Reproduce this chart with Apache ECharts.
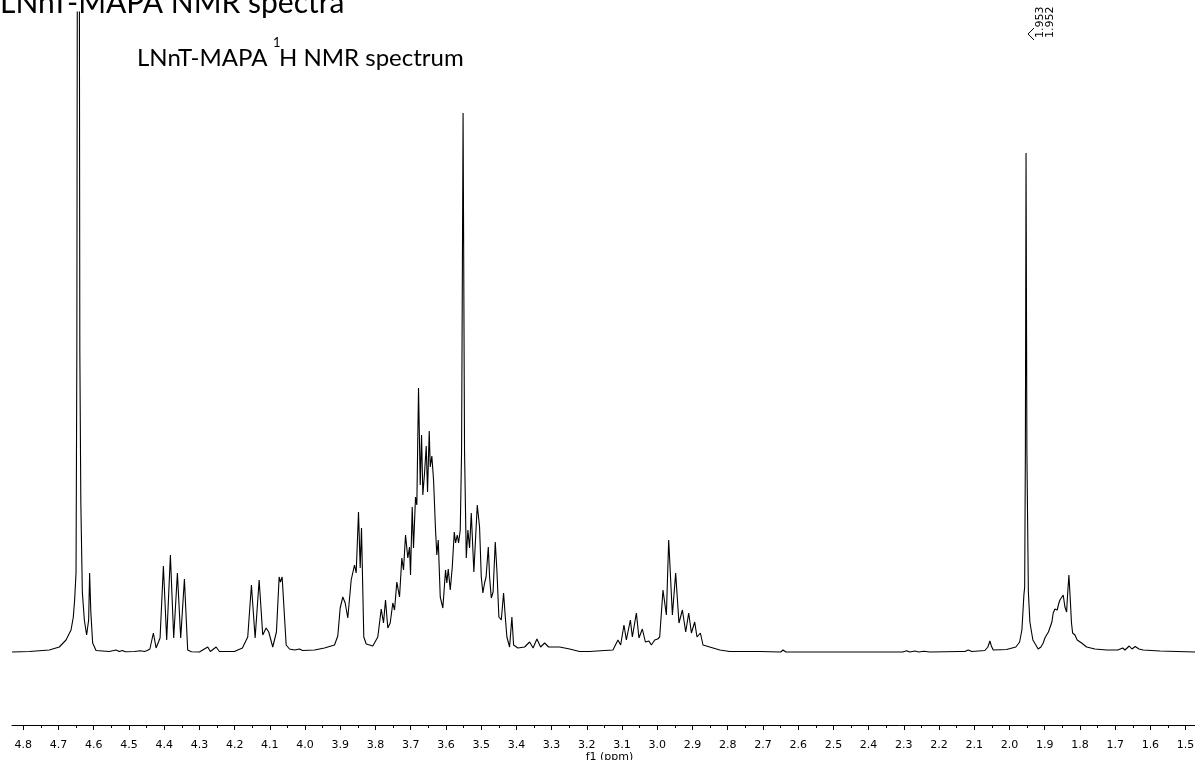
<!DOCTYPE html>
<html>
<head>
<meta charset="utf-8">
<title>LNnT-MAPA NMR spectra</title>
<script src="https://cdn.jsdelivr.net/npm/echarts@6/dist/echarts.min.js"></script>
<style>
  html, body { margin: 0; padding: 0; background: #ffffff; overflow: hidden; }
  #chart { width: 1195px; height: 760px; }
</style>
</head>
<body>
<div id="chart"></div>
<script>
// 1H NMR trace: chemical shift (ppm) and intensity (arbitrary units, baseline = 0)
const chemicalShift = [
  4.8321, 4.7830, 4.7262, 4.6978, 4.6787, 4.6645, 4.6580, 4.6543, 4.6503, 4.6480,
  4.6438, 4.6395, 4.6367, 4.6324, 4.6267, 4.6202, 4.6145, 4.6117, 4.6083, 4.6031,
  4.5935, 4.5557, 4.5367, 4.5273, 4.5188, 4.5103, 4.4847, 4.4676, 4.4563, 4.4478,
  4.4406, 4.4307, 4.4230, 4.4117, 4.4023, 4.3929, 4.3824, 4.3730, 4.3625, 4.3531,
  4.3426, 4.3333, 4.3227, 4.3000, 4.2764, 4.2688, 4.2526, 4.2432, 4.2006, 4.1779,
  4.1628, 4.1523, 4.1418, 4.1304, 4.1202, 4.1105, 4.1031, 4.0918, 4.0813, 4.0736,
  4.0699, 4.0651, 4.0537, 4.0443, 4.0301, 4.0159, 4.0074, 3.9733, 3.9449, 3.9165,
  3.9071, 3.9003, 3.8929, 3.8861, 3.8787, 3.8691, 3.8645, 3.8597, 3.8549, 3.8483,
  3.8435, 3.8398, 3.8333, 3.8264, 3.8077, 3.7935, 3.7838, 3.7773, 3.7716, 3.7651,
  3.7583, 3.7509, 3.7460, 3.7395, 3.7318, 3.7253, 3.7205, 3.7148, 3.7083, 3.7034,
  3.7006, 3.6958, 3.6921, 3.6864, 3.6827, 3.6779, 3.6730, 3.6693, 3.6656, 3.6608,
  3.6560, 3.6523, 3.6475, 3.6446, 3.6401, 3.6352, 3.6296, 3.6259, 3.6219, 3.6162,
  3.6088, 3.6012, 3.5975, 3.5935, 3.5878, 3.5821, 3.5764, 3.5727, 3.5679, 3.5642,
  3.5594, 3.5557, 3.5514, 3.5472, 3.5423, 3.5378, 3.5330, 3.5281, 3.5208, 3.5111,
  3.5046, 3.4997, 3.4952, 3.4904, 3.4861, 3.4798, 3.4761, 3.4713, 3.4662, 3.4600,
  3.4554, 3.4497, 3.4429, 3.4364, 3.4315, 3.4270, 3.4193, 3.4128, 3.4080, 3.3958,
  3.3767, 3.3625, 3.3526, 3.3418, 3.3313, 3.3199, 3.3085, 3.2773, 3.2489, 3.2205,
  3.1921, 3.1495, 3.1259, 3.1117, 3.1040, 3.0946, 3.0878, 3.0764, 3.0708, 3.0594,
  3.0520, 3.0424, 3.0338, 3.0236, 3.0168, 3.0074, 2.9989, 2.9932, 2.9838, 2.9742,
  2.9676, 2.9571, 2.9478, 2.9384, 2.9287, 2.9193, 2.9108, 2.9031, 2.8938, 2.8872,
  2.8776, 2.8702, 2.8512, 2.8227, 2.7943, 2.7091, 2.6495, 2.6429, 2.6352, 2.4534,
  2.3029, 2.2923, 2.2830, 2.2688, 2.2574, 2.2432, 2.2261, 2.1409, 2.1267, 2.1173,
  2.1068, 2.0699, 2.0614, 2.0557, 2.0514, 2.0463, 2.0083, 1.9819, 1.9713, 1.9648,
  1.9620, 1.9591, 1.9569, 1.9549, 1.9530, 1.9520, 1.9506, 1.9464, 1.9421, 1.9384,
  1.9336, 1.9185, 1.9108, 1.9043, 1.8995, 1.8946, 1.8895, 1.8853, 1.8796, 1.8759,
  1.8710, 1.8645, 1.8605, 1.8568, 1.8520, 1.8475, 1.8426, 1.8378, 1.8355, 1.8313,
  1.8270, 1.8242, 1.8208, 1.8142, 1.8077, 1.8029, 1.7952, 1.7915, 1.7810, 1.7574,
  1.7242, 1.6921, 1.6787, 1.6722, 1.6600, 1.6523, 1.6429, 1.6324, 1.6202, 1.5727,
  1.4733
];
const intensity = [
  0, 0.5, 2, 5, 12, 22, 35, 52, 79, 300,
  1500, 300, 150, 60, 32, 17, 32, 79, 40, 9,
  1.5, 0.5, 2, 0.5, 1.5, 0.3, 0.5, 1.2, 0.5, 1.5,
  3, 19, 4, 14, 86, 12, 97, 14, 79, 14,
  73, 2, 0.3, 0, 5, 0.5, 5, 0.5, 0.5, 4,
  15, 67, 14, 72, 17, 24, 20, 5, 20, 75,
  70, 75, 7, 3, 2, 3, 1.5, 2, 4, 7,
  16, 44, 55, 49, 34, 72, 73, 87, 79, 140,
  84, 124, 15, 8, 6, 15, 43, 29, 52, 24,
  29, 49, 42, 70, 55, 94, 82, 117, 94, 105,
  77, 145, 104, 155, 147, 264, 167, 217, 157, 179,
  206, 160, 221, 185, 196, 172, 122, 97, 112, 55,
  44, 82, 69, 83, 62, 85, 120, 109, 117, 109,
  122, 200, 539, 200, 94, 122, 104, 139, 80, 147,
  125, 75, 59, 69, 75, 105, 75, 54, 60, 110,
  82, 35, 32, 59, 35, 15, 5, 35, 7, 4,
  5, 10, 4, 13, 5, 9, 5, 5, 3, 0.5,
  0.5, 1.5, 2, 12, 7, 27, 12, 32, 15, 39,
  14, 23, 10, 11, 7, 12, 13, 15, 62, 37,
  112, 37, 79, 29, 42, 20, 39, 19, 30, 15,
  19, 7, 5, 2, 0.5, 0.5, 0, 2, 0, 0,
  0, 1.3, 0, 1, 0, 0.8, 0, 0.5, 0.5, 2,
  0.5, 1.5, 5, 11, 6, 2, 2.5, 5, 10, 22,
  39, 57, 65, 200, 499, 497, 200, 60, 30, 22,
  12, 3, 5, 9, 14, 17, 20, 21, 30, 39,
  43, 42, 48, 52, 54, 57, 45, 40, 55, 77,
  50, 30, 19, 17, 12, 14, 9, 10, 5, 3,
  2, 2, 4, 2, 6, 3, 5.5, 3, 2, 1,
  0
];

// axis ticks (ppm)
const majorTicks = [4.8, 4.7, 4.6, 4.5, 4.4, 4.3, 4.2, 4.1, 4.0, 3.9, 3.8, 3.7, 3.6, 3.5, 3.4,
  3.3, 3.2, 3.1, 3.0, 2.9, 2.8, 2.7, 2.6, 2.5, 2.4, 2.3, 2.2, 2.1, 2.0, 1.9, 1.8, 1.7, 1.6, 1.5];
const minorTicks = [4.75, 4.65, 4.55, 4.45, 4.35, 4.25, 4.15, 4.05, 3.95, 3.85, 3.75, 3.65,
  3.55, 3.45, 3.35, 3.25, 3.15, 3.05, 2.95, 2.85, 2.75, 2.65, 2.55, 2.45, 2.35, 2.25, 2.15,
  2.05, 1.95, 1.85, 1.75, 1.65, 1.55];

// peak picking labels
const peakLabels = ['1.953', '1.952'];
const peakShifts = [1.953, 1.952];

const shiftMin = 1.4733;
const shiftMax = 4.8321;

const chart = echarts.init(document.getElementById('chart'), null, { renderer: 'canvas', width: 1195, height: 760 });

const spectrum = chemicalShift.map((s, i) => [s, intensity[i]]);
const axisFont = 'DejaVu Sans, Verdana, sans-serif';

const shiftAxisBase = {
  type: 'value',
  inverse: true,
  min: shiftMin,
  max: shiftMax,
  position: 'bottom',
  offset: 0,
  splitLine: { show: false }
};

chart.setOption({
  animation: false,
  backgroundColor: '#ffffff',
  grid: { left: 12, right: 0, top: 12, bottom: 35, containLabel: false, outerBoundsMode: 'none' },
  xAxis: [
    Object.assign({}, shiftAxisBase, {
      name: 'f1 (ppm)',
      nameLocation: 'middle',
      nameGap: 27,
      nameMoveOverlap: false,
      nameTextStyle: { fontFamily: axisFont, fontSize: 11, color: '#000', padding: [0, 0, 0, 12] },
      axisLine: { show: true, onZero: false, lineStyle: { color: '#000', width: 1 } },
      axisTick: { show: true, customValues: majorTicks, length: 5, inside: false, lineStyle: { color: '#000' } },
      axisLabel: {
        show: true, customValues: majorTicks, margin: 15,
        fontFamily: axisFont, fontSize: 11, color: '#000',
        formatter: v => v.toFixed(1)
      }
    }),
    Object.assign({}, shiftAxisBase, {
      axisLine: { show: false, onZero: false },
      axisTick: { show: true, customValues: minorTicks, length: 3, inside: false, lineStyle: { color: '#000' } },
      axisLabel: { show: false }
    })
  ],
  yAxis: {
    type: 'value',
    min: -73,
    max: 640,
    show: false,
    splitLine: { show: false }
  },
  series: [{
    type: 'line',
    xAxisIndex: 0,
    data: spectrum,
    showSymbol: false,
    symbol: 'none',
    clip: true,
    lineStyle: { color: '#000', width: 1.1 },
    silent: true
  }]
});

// headings and peak-pick annotation
const peakX = chart.convertToPixel({ xAxisIndex: 0 }, peakShifts[0]);
const headFont = 'Lato, "Open Sans", sans-serif';
const labelStyle = { font: '11px ' + axisFont, fill: '#000', textAlign: 'left', textVerticalAlign: 'middle' };
chart.setOption({
  graphic: [
    { type: 'text', x: 0, y: -12, style: { text: 'LNnT-MAPA NMR spectra', font: '30px ' + headFont, fill: '#000' } },
    { type: 'text', x: 137, y: 46, style: { text: 'LNnT-MAPA', font: '24px ' + headFont, fill: '#000' } },
    { type: 'text', x: 273, y: 36, style: { text: '1', font: '13px ' + headFont, fill: '#000' } },
    { type: 'text', x: 279, y: 46, style: { text: 'H NMR spectrum', font: '24px ' + headFont, fill: '#000' } },
    { type: 'text', x: peakX + 14, y: 38, rotation: Math.PI / 2,
      style: Object.assign({ text: peakLabels[0] }, labelStyle) },
    { type: 'text', x: peakX + 24, y: 38, rotation: Math.PI / 2,
      style: Object.assign({ text: peakLabels[1] }, labelStyle) },
    { type: 'polyline', shape: { points: [[peakX + 8, 28], [peakX + 2, 34], [peakX + 8, 40]] },
      style: { stroke: '#000', lineWidth: 1, fill: null } }
  ]
});
</script>
</body>
</html>
